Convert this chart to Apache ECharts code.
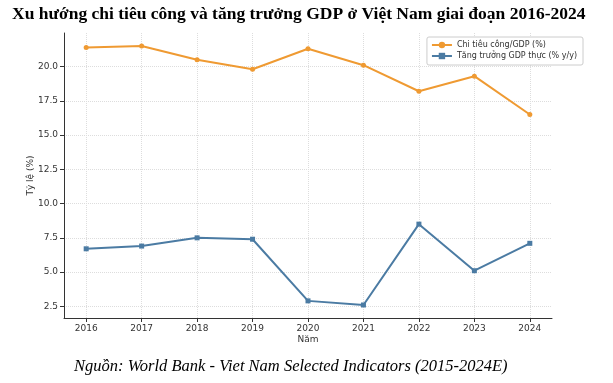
<!DOCTYPE html>
<html><head><meta charset="utf-8">
<script src="https://cdn.jsdelivr.net/npm/echarts@6/dist/echarts.min.js"></script>
<style>html,body{margin:0;padding:0;background:#fff}#c{width:613px;height:383px}</style>
</head><body><div id="c"></div>
<script>
var years = [2016, 2017, 2018, 2019, 2020, 2021, 2022, 2023, 2024];
var spending = [21.4, 21.5, 20.5, 19.8, 21.3, 20.1, 18.2, 19.3, 16.5];
var gdpGrowth = [6.7, 6.9, 7.5, 7.4, 2.9, 2.6, 8.5, 5.1, 7.1];
var yTicks = [2.5, 5.0, 7.5, 10.0, 12.5, 15.0, 17.5, 20.0];
var seriesNames = ['Chi tiêu công/GDP (%)', 'Tăng trưởng GDP thực (% y/y)'];

function pairs(vals){ return years.map(function(y,i){ return [y, vals[i]]; }); }
var chart = echarts.init(document.getElementById('c'));
var axisFont = {fontFamily:'DejaVu Sans', fontSize:9, color:'#333'};
chart.setOption({
  animation:false,
  backgroundColor:'#fff',
  title:[
    {text:'Xu hướng chi tiêu công và tăng trưởng GDP ở Việt Nam giai đoạn 2016-2024', left:7, top:0,
     textStyle:{fontFamily:'Liberation Serif', fontWeight:'bold', fontSize:17.5, color:'#000'}},
    {text:'Nguồn: World Bank - Viet Nam Selected Indicators (2015-2024E)', left:69, top:353,
     textStyle:{fontFamily:'Liberation Serif', fontStyle:'italic', fontWeight:'normal', fontSize:16.5, color:'#000'}}
  ],
  grid:{left:64, right:61, top:33, bottom:65},
  legend:{
    right:30, top:37, orient:'vertical', itemGap:3, itemWidth:20, itemHeight:8,
    backgroundColor:'#fff', borderColor:'#ccc', borderWidth:1, borderRadius:2, padding:[4,6,5,4],
    textStyle:{fontFamily:'DejaVu Sans', fontSize:8, color:'#333'},
    data:seriesNames
  },
  xAxis:{
    type:'value', min:2015.6, max:2024.4,
    name:'Năm', nameLocation:'middle', nameGap:17, nameMoveOverlap:false, nameTextStyle:axisFont,
    axisLine:{show:true, lineStyle:{color:'#333', width:1}},
    axisTick:{show:true, customValues:years, length:4, lineStyle:{color:'#333'}},
    axisLabel:Object.assign({customValues:years, margin:6, formatter:function(v){return String(v);}}, axisFont),
    splitLine:{show:true, lineStyle:{color:'#ddd', type:'dotted', width:1}}
  },
  yAxis:{
    type:'value', min:1.65, max:22.45,
    name:'Tỷ lệ (%)', nameLocation:'middle', nameGap:29, nameMoveOverlap:false, nameRotate:90, nameTextStyle:axisFont,
    axisLine:{show:true, lineStyle:{color:'#333', width:1}},
    axisTick:{show:true, customValues:yTicks, length:4, lineStyle:{color:'#333'}},
    axisLabel:Object.assign({customValues:yTicks, margin:6, formatter:function(v){return v.toFixed(1);}}, axisFont),
    splitLine:{show:true, lineStyle:{color:'#ddd', type:'dotted', width:1}}
  },
  series:[
    {name:seriesNames[0], type:'line', data:pairs(spending), color:'#EF9A32',
     symbol:'circle', symbolSize:5, lineStyle:{width:2}},
    {name:seriesNames[1], type:'line', data:pairs(gdpGrowth), color:'#4B7BA3',
     symbol:'rect', symbolSize:5, lineStyle:{width:2}}
  ]
});
</script></body></html>
